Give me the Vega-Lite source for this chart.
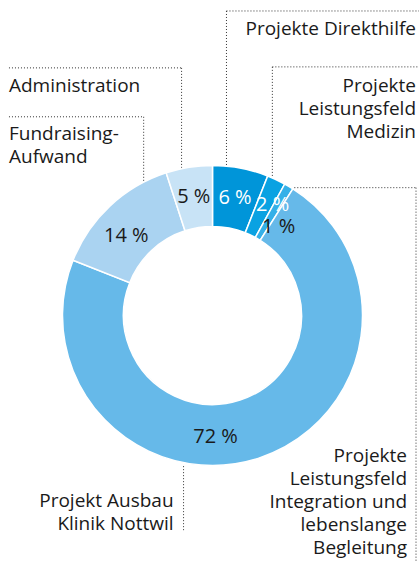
{
  "$schema": "https://vega.github.io/schema/vega-lite/v6.json",
  "width": 420,
  "height": 563,
  "autosize": {"type": "fit", "contains": "padding"},
  "padding": 0,
  "background": "white",
  "config": {"view": {"stroke": null}, "font": "Open Sans"},
  "datasets": {
    "shares": [
      {"category": "Projekte Direkthilfe", "share": 6, "order": 1, "label": "6 %"},
      {"category": "Projekte Leistungsfeld Medizin", "share": 2, "order": 2, "label": "2 %"},
      {"category": "Projekte Leistungsfeld Integration und lebenslange Begleitung", "share": 1, "order": 3, "label": "1 %"},
      {"category": "Projekt Ausbau Klinik Nottwil", "share": 72, "order": 4, "label": "72 %"},
      {"category": "Fundraising-Aufwand", "share": 14, "order": 5, "label": "14 %"},
      {"category": "Administration", "share": 5, "order": 6, "label": "5 %"}
    ],
    "names": [
      {"name": "Projekte Direkthilfe", "side": "right", "x": 204, "y": 281},
      {"name": "Projekte\nLeistungsfeld\nMedizin", "side": "right", "x": 204, "y": 224},
      {"name": "Projekte\nLeistungsfeld\nIntegration und\nlebenslange\nBegleitung", "side": "right", "x": 195, "y": -147},
      {"name": "Projekt Ausbau\nKlinik Nottwil", "side": "right", "x": -39, "y": -192},
      {"name": "Administration", "side": "left", "x": -204, "y": 224},
      {"name": "Fundraising-\nAufwand", "side": "left", "x": -204, "y": 176}
    ],
    "leaders": [
      {"x": 14, "y": 305, "x2": 207, "y2": 305},
      {"x": 14, "y": 305, "x2": 14, "y2": 150},
      {"x": 60, "y": 249, "x2": 207, "y2": 249},
      {"x": 60, "y": 249, "x2": 60, "y2": 139},
      {"x": 82, "y": 128, "x2": 204, "y2": 128},
      {"x": 204, "y": 128, "x2": 204, "y2": -247},
      {"x": -204, "y": 248, "x2": -31, "y2": 248},
      {"x": -31, "y": 248, "x2": -31, "y2": 148},
      {"x": -204, "y": 199, "x2": -69, "y2": 199},
      {"x": -69, "y": 199, "x2": -69, "y2": 134},
      {"x": -29, "y": -151, "x2": -29, "y2": -216}
    ]
  },
  "layer": [
    {
      "data": {"name": "leaders"},
      "mark": {"type": "rule", "color": "#333333", "strokeWidth": 1, "strokeDash": [1, 2]},
      "encoding": {
        "x": {"field": "x", "type": "quantitative", "scale": {"domain": [-213, 207], "nice": false, "zero": false}, "axis": null},
        "y": {"field": "y", "type": "quantitative", "scale": {"domain": [-247, 316], "nice": false, "zero": false}, "axis": null},
        "x2": {"field": "x2"},
        "y2": {"field": "y2"}
      }
    },
    {
      "data": {"name": "shares"},
      "mark": {"type": "arc", "outerRadius": 150, "innerRadius": 89, "stroke": "white", "strokeWidth": 1.5},
      "encoding": {
        "x": {"datum": 0, "type": "quantitative"},
        "y": {"datum": 0, "type": "quantitative"},
        "theta": {"field": "share", "type": "quantitative", "stack": true},
        "order": {"field": "order", "type": "quantitative"},
        "color": {
          "field": "category",
          "type": "nominal",
          "legend": null,
          "scale": {
            "domain": ["Projekte Direkthilfe", "Projekte Leistungsfeld Medizin", "Projekte Leistungsfeld Integration und lebenslange Begleitung", "Projekt Ausbau Klinik Nottwil", "Fundraising-Aufwand", "Administration"],
            "range": ["#0095d9", "#0aa2e2", "#35b0e8", "#66b9e9", "#aad3f1", "#c8e3f6"]
          }
        }
      }
    },
    {
      "data": {"name": "shares"},
      "mark": {"type": "text", "fontSize": 20, "radius": 120},
      "encoding": {
        "x": {"datum": 0, "type": "quantitative"},
        "y": {"datum": 0, "type": "quantitative"},
        "theta": {"field": "share", "type": "quantitative", "stack": true},
        "order": {"field": "order", "type": "quantitative"},
        "detail": {"field": "category", "type": "nominal"},
        "text": {"condition": {"test": "datum.order == 1 || datum.order == 6", "field": "label", "type": "nominal"}, "value": ""},
        "color": {"condition": {"test": "datum.order == 1", "value": "white"}, "value": "#1a1a1a"}
      }
    },
    {
      "data": {"name": "shares"},
      "mark": {"type": "text", "fontSize": 20, "radius": 120, "dx": 9, "dy": -2, "color": "white"},
      "encoding": {
        "x": {"datum": 0, "type": "quantitative"},
        "y": {"datum": 0, "type": "quantitative"},
        "theta": {"field": "share", "type": "quantitative", "stack": true},
        "order": {"field": "order", "type": "quantitative"},
        "detail": {"field": "category", "type": "nominal"},
        "text": {"condition": {"test": "datum.order == 2", "field": "label", "type": "nominal"}, "value": ""}
      }
    },
    {
      "data": {"name": "shares"},
      "mark": {"type": "text", "fontSize": 20, "radius": 120, "dx": 5, "dy": 15, "color": "#1a1a1a"},
      "encoding": {
        "x": {"datum": 0, "type": "quantitative"},
        "y": {"datum": 0, "type": "quantitative"},
        "theta": {"field": "share", "type": "quantitative", "stack": true},
        "order": {"field": "order", "type": "quantitative"},
        "detail": {"field": "category", "type": "nominal"},
        "text": {"condition": {"test": "datum.order == 3", "field": "label", "type": "nominal"}, "value": ""}
      }
    },
    {
      "data": {"name": "shares"},
      "mark": {"type": "text", "fontSize": 20, "radius": 120, "dx": -34, "dy": 7, "color": "#1a1a1a"},
      "encoding": {
        "x": {"datum": 0, "type": "quantitative"},
        "y": {"datum": 0, "type": "quantitative"},
        "theta": {"field": "share", "type": "quantitative", "stack": true},
        "order": {"field": "order", "type": "quantitative"},
        "detail": {"field": "category", "type": "nominal"},
        "text": {"condition": {"test": "datum.order == 4", "field": "label", "type": "nominal"}, "value": ""}
      }
    },
    {
      "data": {"name": "shares"},
      "mark": {"type": "text", "fontSize": 20, "radius": 120, "dx": -4, "dy": 8, "color": "#1a1a1a"},
      "encoding": {
        "x": {"datum": 0, "type": "quantitative"},
        "y": {"datum": 0, "type": "quantitative"},
        "theta": {"field": "share", "type": "quantitative", "stack": true},
        "order": {"field": "order", "type": "quantitative"},
        "detail": {"field": "category", "type": "nominal"},
        "text": {"condition": {"test": "datum.order == 5", "field": "label", "type": "nominal"}, "value": ""}
      }
    },
    {
      "data": {"name": "names"},
      "transform": [{"filter": "datum.side == 'right'"}],
      "mark": {"type": "text", "fontSize": 19, "align": "right", "baseline": "alphabetic", "lineBreak": "\n", "lineHeight": 23, "color": "#1a1a1a"},
      "encoding": {
        "x": {"field": "x", "type": "quantitative"},
        "y": {"field": "y", "type": "quantitative"},
        "text": {"field": "name", "type": "nominal"}
      }
    },
    {
      "data": {"name": "names"},
      "transform": [{"filter": "datum.side == 'left'"}],
      "mark": {"type": "text", "fontSize": 19, "align": "left", "baseline": "alphabetic", "lineBreak": "\n", "lineHeight": 23, "color": "#1a1a1a"},
      "encoding": {
        "x": {"field": "x", "type": "quantitative"},
        "y": {"field": "y", "type": "quantitative"},
        "text": {"field": "name", "type": "nominal"}
      }
    }
  ]
}
